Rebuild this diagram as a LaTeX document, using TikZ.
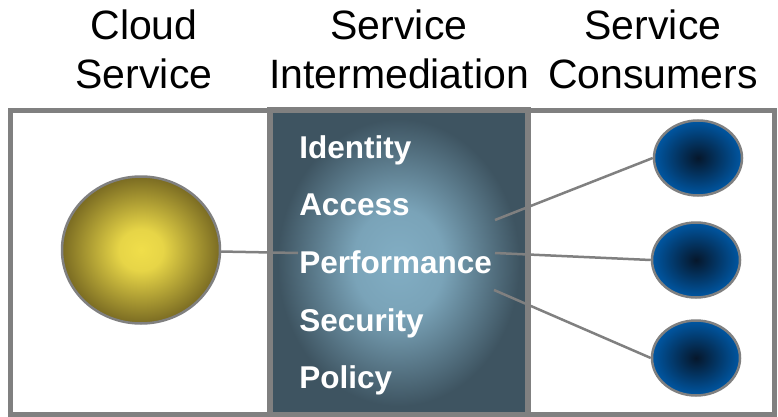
\documentclass[tikz,border=0pt]{standalone}
\usepackage{fontspec}
\setmainfont{Liberation Sans}
\usepackage{tikz}
\usepackage{xcolor}
\usetikzlibrary{shapes.geometric,positioning}

\definecolor{framegray}{HTML}{808080}
\definecolor{paneldark}{HTML}{3E5461}
\definecolor{panellight}{HTML}{82AEC4}
\definecolor{sunlight}{HTML}{F0DE4A}
\definecolor{sundark}{HTML}{7A6B22}
\definecolor{bluelight}{HTML}{0057A3}
\definecolor{bluedark}{HTML}{06172B}

\pgfdeclareradialshading{panelglow}{\pgfpoint{0bp}{0bp}}{%
  color(0bp)=(panellight); color(9bp)=(panellight!88!paneldark);
  color(24bp)=(paneldark); color(50bp)=(paneldark)}
\pgfdeclareradialshading{sunglow}{\pgfpoint{0bp}{0bp}}{%
  color(0bp)=(sunlight); color(7bp)=(sunlight!92!sundark);
  color(25bp)=(sundark); color(50bp)=(sundark)}

\begin{document}
\begin{tikzpicture}[x=1pt,y=-1pt,line width=2.5pt,
  head/.style={align=center,anchor=base,inner sep=0pt,font=\fontsize{41}{49}\selectfont},
  item/.style={anchor=base west,inner sep=0pt,text=white,font=\fontsize{31.5}{36}\selectfont\bfseries},
  consumer/.style={ellipse,draw=framegray,inner sep=0pt,minimum width=88pt,minimum height=75pt,inner color=bluedark,outer color=bluelight}]
\useasboundingbox (0,0) rectangle (778,417);
% frame and middle panel
\draw[framegray,line width=5pt,fill=white] (10.5,110.5) rectangle (774.5,414.5);
\path[shading=panelglow] (272.5,113) rectangle (524.5,412);
\draw[framegray,line width=6pt] (269.5,110.5) rectangle (527.5,414.5);
% headings
\node (hcloud) at (144,89) [head] {Cloud\\Service};
\node (hinter) at (399,89) [head] {Service\\Intermediation};
\node (hcons) at (653,89) [head] {Service\\Consumers};
% service and consumers
\node (ys) at (141,250) [ellipse,draw=framegray,inner sep=0pt,minimum width=158pt,minimum height=147pt,shading=sunglow] {};
\node (c1) at (698,158) [consumer] {};
\node (c2) at (696,260) [consumer] {};
\node (c3) at (696,358) [consumer] {};
\coordinate (p0) at (298,253);
\coordinate (a1) at (495,220);
\coordinate (a2) at (495,253);
\coordinate (a3) at (494,290);
\draw[-,framegray] (ys) -- (p0);
\draw[-,framegray] (a1) -- (c1.west);
\draw[-,framegray] (a2) -- (c2.west);
\draw[-,framegray] (a3) -- (c3.west);
% intermediation items
\node (ident) at (298,158) [item] {Identity};
\node (acc) at (298,215) [item] {Access};
\node (perf) at (298,273) [item] {Performance};
\node (sec) at (298,331) [item] {Security};
\node (pol) at (298,388) [item] {Policy};
\end{tikzpicture}
\end{document}
